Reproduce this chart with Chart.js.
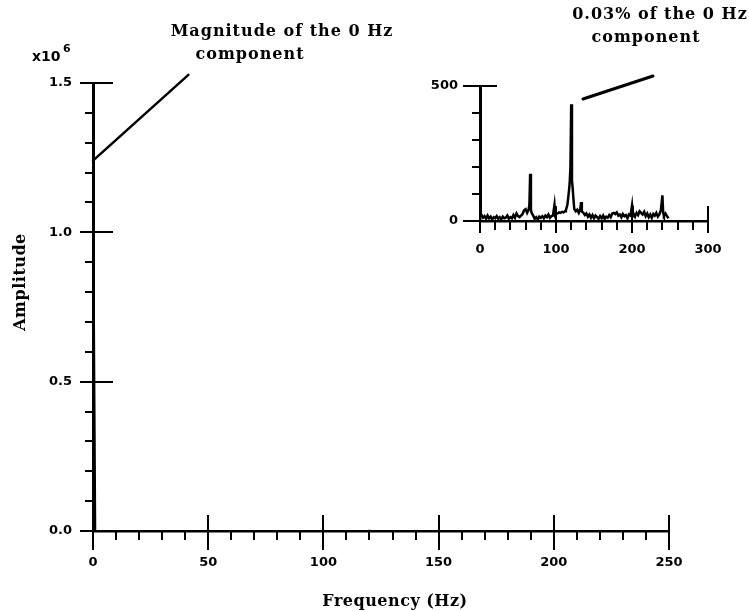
<!DOCTYPE html>
<html>
<head>
<meta charset="utf-8">
<title>Amplitude spectrum</title>
<script src="https://cdn.jsdelivr.net/npm/chart.js@4.4.1/dist/chart.umd.min.js"></script>
<style>
  html, body { margin: 0; padding: 0; background: #fff; }
  #wrap { position: relative; width: 749px; height: 611px; }
  #wrap canvas { position: absolute; left: 0; top: 0; }
</style>
</head>
<body>
<div id="wrap">
  <canvas id="mainChart" width="749" height="611"></canvas>
  <canvas id="insetChart" width="749" height="611"></canvas>
</div>
<script>
// Spectrum samples: frequency (Hz) and amplitude
const frequencyHz = [
  0, 1, 2, 4, 6, 8, 10, 12, 14, 16, 18, 20, 22, 24, 26, 28, 30, 32, 34, 36, 38,
  40, 42, 44, 46, 48, 50, 52, 54, 56, 58, 60, 62, 64, 65, 66, 67, 68, 70, 72, 74,
  76, 78, 80, 82, 84, 86, 88, 90, 92, 94, 96, 98, 99, 100, 102, 104, 106, 108, 110,
  112, 113, 115, 117, 118, 119, 120, 121, 122, 123, 124, 126, 128, 130, 132, 133,
  134, 136, 138, 140, 142, 144, 146, 148, 150, 152, 154, 156, 158, 160, 162, 164, 166,
  168, 170, 172, 174, 176, 178, 180, 182, 184, 186, 188, 190, 192, 194, 196, 198, 200,
  201, 202, 204, 206, 208, 210, 212, 214, 216, 218, 220, 222, 224, 226, 228, 230, 232,
  234, 236, 238, 240, 241, 242, 244, 246, 248
];
const amplitude = [
  1240000, 30, 22, 12, 18, 8, 20, 10, 16, 6, 14, 10, 18, 8, 14, 6, 16, 10, 12, 20, 8,
  14, 10, 22, 12, 28, 18, 14, 20, 26, 40, 44, 30, 42, 60, 175, 40, 30, 20, 8, 14,
  6, 16, 12, 18, 10, 20, 14, 24, 12, 18, 20, 60, 24, 30, 28, 32, 30, 34, 32,
  36, 40, 60, 110, 140, 200, 432, 150, 120, 80, 45, 36, 42, 30, 45, 70,
  35, 30, 22, 28, 16, 24, 12, 22, 10, 20, 14, 8, 18, 10, 20, 8, 16,
  12, 22, 14, 28, 30, 26, 32, 20, 24, 14, 26, 18, 22, 10, 24, 20, 57,
  20, 28, 16, 30, 22, 36, 30, 24, 34, 18, 28, 14, 24, 12, 26, 20, 30,
  16, 24, 40, 95, 30, 20, 28, 18, 10
];

// Axis ticks and their labels
const mainXTicks = [0, 50, 100, 150, 200, 250];
const mainXLabels = ['0', '50', '100', '150', '200', '250'];
const mainYTicks = [0, 500000, 1000000, 1500000];
const mainYLabels = ['0.0', '0.5', '1.0', '1.5'];
const insetXTicks = [0, 100, 200, 300];
const insetXLabels = ['0', '100', '200', '300'];
const insetYTicks = [0, 500];
const insetYLabels = ['0', '500'];

// Call-out anchors, in data units of each panel
const mainCallout = [[0, 1240000], [41.4, 1527000]];
const insetCallout = [[135.5, 452], [227.6, 537]];

const points = frequencyHz.map((f, i) => ({ x: f, y: amplitude[i] }));

const tickFont = { family: 'DejaVu Sans', size: 13, weight: 'bold' };
const ink = '#000';

// Draws major (crossing) and minor (outside) tick marks along both axes
const axisMarks = {
  id: 'axisMarks',
  afterDraw(chart, args, o) {
    const { ctx, chartArea: a, scales: { x, y } } = chart;
    const isMajor = (list, v, tol) => list.some(m => Math.abs(m - v) < tol);
    ctx.save();
    ctx.strokeStyle = ink;
    ctx.lineWidth = o.width;
    ctx.lineCap = 'butt';
    const nx = Math.round((x.max - x.min) / o.x.step);
    for (let i = 0; i <= nx; i++) {
      const v = x.min + i * o.x.step;
      const px = Math.round(x.getPixelForValue(v));
      const major = isMajor(o.x.majors, v, o.x.step / 10);
      ctx.beginPath();
      ctx.moveTo(px, a.bottom - (major ? o.x.up : 0));
      ctx.lineTo(px, a.bottom + (major ? o.x.down : o.x.minor));
      ctx.stroke();
    }
    const ny = Math.round((y.max - y.min) / o.y.step);
    for (let i = 0; i <= ny; i++) {
      const v = y.min + i * o.y.step;
      const py = Math.round(y.getPixelForValue(v));
      const major = isMajor(o.y.majors, v, o.y.step / 10);
      ctx.beginPath();
      ctx.moveTo(a.left - (major ? o.y.left : o.y.minor), py);
      ctx.lineTo(a.left + (major ? o.y.right : 0), py);
      ctx.stroke();
    }
    ctx.restore();
  }
};

// Straight call-out line pointing at the text note
const callout = {
  id: 'callout',
  afterDatasetsDraw(chart, args, o) {
    const { ctx, scales: { x, y } } = chart;
    ctx.save();
    ctx.strokeStyle = ink;
    ctx.lineWidth = o.width;
    ctx.lineCap = 'round';
    ctx.beginPath();
    ctx.moveTo(x.getPixelForValue(o.from[0]), y.getPixelForValue(o.from[1]));
    ctx.lineTo(x.getPixelForValue(o.to[0]), y.getPixelForValue(o.to[1]));
    ctx.stroke();
    ctx.restore();
  }
};

// Free text: notes, axis titles and the exponent marker
const notes = {
  id: 'notes',
  afterDraw(chart) {
    const { ctx } = chart;
    ctx.save();
    ctx.fillStyle = ink;
    ctx.textAlign = 'center';
    ctx.textBaseline = 'middle';
    ctx.font = 'bold 16px "DejaVu Serif"';
    ctx.letterSpacing = '1px';
    ctx.fillText('Magnitude of the 0 Hz', 282, 32);
    ctx.fillText('component', 250, 55);
    ctx.fillText('0.03% of the 0 Hz', 660, 15);
    ctx.fillText('component', 646, 38);
    ctx.letterSpacing = '0.5px';
    ctx.fillText('Frequency (Hz)', 395, 602);
    ctx.save();
    ctx.translate(21, 282);
    ctx.rotate(-Math.PI / 2);
    ctx.fillText('Amplitude', 0, 0);
    ctx.restore();
    ctx.letterSpacing = '0px';
    ctx.textAlign = 'left';
    ctx.textBaseline = 'alphabetic';
    ctx.font = 'bold 14px "DejaVu Sans"';
    ctx.fillText('x10', 32, 61);
    ctx.font = 'bold 11px "DejaVu Sans"';
    ctx.fillText('6', 63, 52);
    ctx.restore();
  }
};

function fixedTicks(values, labels) {
  return {
    afterBuildTicks: s => { s.ticks = values.map(v => ({ value: v })); },
    labels
  };
}

function panel(canvasId, cfg) {
  const xt = fixedTicks(cfg.xTicks, cfg.xLabels);
  const yt = fixedTicks(cfg.yTicks, cfg.yLabels);
  return new Chart(document.getElementById(canvasId), {
    type: 'line',
    data: {
      datasets: [{
        data: points,
        borderColor: ink,
        borderWidth: cfg.lineWidth,
        pointRadius: 0,
        tension: 0,
        fill: false
      }]
    },
    options: {
      responsive: false,
      animation: false,
      events: [],
      layout: { padding: cfg.padding },
      plugins: {
        legend: { display: false },
        tooltip: { enabled: false },
        axisMarks: cfg.marks,
        callout: cfg.callout
      },
      scales: {
        x: {
          type: 'linear',
          min: cfg.xRange[0],
          max: cfg.xRange[1],
          afterBuildTicks: xt.afterBuildTicks,
          afterFit: s => { s.height = cfg.xHeight; },
          grid: { display: false, drawTicks: false },
          border: { display: true, color: ink, width: 2.5 },
          ticks: {
            autoSkip: false, maxRotation: 0, color: ink, font: tickFont,
            padding: cfg.xPad,
            callback: (v, i) => xt.labels[i]
          }
        },
        y: {
          type: 'linear',
          min: cfg.yRange[0],
          max: cfg.yRange[1],
          afterBuildTicks: yt.afterBuildTicks,
          afterFit: s => { s.width = cfg.yWidth; },
          grid: { display: false, drawTicks: false },
          border: { display: true, color: ink, width: cfg.yAxisWidth },
          ticks: {
            autoSkip: false, color: ink, font: tickFont,
            padding: cfg.yPad,
            callback: (v, i) => yt.labels[i]
          }
        }
      }
    },
    plugins: cfg.extra
  });
}

// Full-range spectrum
panel('mainChart', {
  xRange: [0, 250], yRange: [0, 1500000],
  xTicks: mainXTicks, xLabels: mainXLabels,
  yTicks: mainYTicks, yLabels: mainYLabels,
  padding: { left: 0, top: 83, right: 80, bottom: 0 },
  xHeight: 80, yWidth: 93, xPad: 24, yPad: 21,
  lineWidth: 2, yAxisWidth: 3,
  marks: {
    width: 2,
    x: { step: 10, majors: mainXTicks, up: 16, down: 19, minor: 9 },
    y: { step: 100000, majors: mainYTicks, left: 13, right: 20, minor: 8 }
  },
  callout: { from: mainCallout[0], to: mainCallout[1], width: 2.5 },
  extra: [axisMarks, callout, notes]
});

// Zoomed view of the small components
panel('insetChart', {
  xRange: [0, 300], yRange: [0, 500],
  xTicks: insetXTicks, xLabels: insetXLabels,
  yTicks: insetYTicks, yLabels: insetYLabels,
  padding: { left: 400, top: 86, right: 41, bottom: 330 },
  xHeight: 60, yWidth: 80, xPad: 21, yPad: 22,
  lineWidth: 2.5, yAxisWidth: 2.5,
  marks: {
    width: 2,
    x: { step: 20, majors: [0, 100, 200, 300], up: 15, down: 12, minor: 9 },
    y: { step: 100, majors: insetYTicks, left: 17, right: 17, minor: 8 }
  },
  callout: { from: insetCallout[0], to: insetCallout[1], width: 3 },
  extra: [axisMarks, callout]
});
</script>
</body>
</html>
